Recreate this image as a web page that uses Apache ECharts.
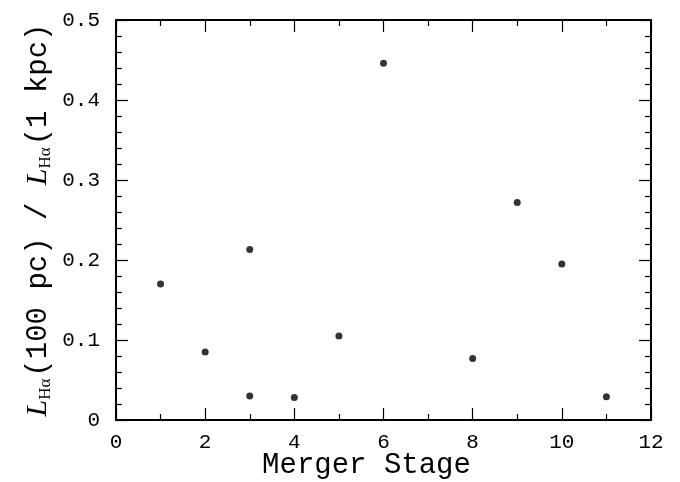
<!DOCTYPE html>
<html>
<head>
<meta charset="utf-8">
<script src="https://cdn.jsdelivr.net/npm/echarts@6/dist/echarts.min.js"></script>
<style>html,body{margin:0;padding:0;background:#fff}#c{width:680px;height:482px}</style>
</head>
<body>
<div id="c"></div>
<script>
var mergerStage = [1, 2, 3, 3, 4, 5, 6, 8, 9, 10, 11];
var haRatio = [0.170, 0.085, 0.213, 0.030, 0.028, 0.105, 0.446, 0.077, 0.272, 0.195, 0.029];
var xTicks = [0, 2, 4, 6, 8, 10, 12];
var yTicks = [0, 0.1, 0.2, 0.3, 0.4, 0.5];

var points = mergerStage.map(function (x, i) { return [x, haRatio[i]]; });
var mono = 'Liberation Mono';
var serif = 'Liberation Serif';
var axisCommon = {
  axisLine: { show: true, onZero: false, lineStyle: { color: '#000', width: 2 } },
  axisTick: { show: true, inside: true, length: 12, lineStyle: { color: '#000', width: 1.2 } },
  splitLine: { show: false }
};
function merge(a, b) { var o = {}; for (var k in a) o[k] = a[k]; for (var k2 in b) o[k2] = b[k2]; return o; }
var xMinor = { show: true, splitNumber: 2, length: 6, lineStyle: { color: '#000', width: 1.2 } };
var yMinor = { show: true, splitNumber: 5, length: 6, lineStyle: { color: '#000', width: 1.2 } };

var chart = echarts.init(document.getElementById('c'));
chart.setOption({
  animation: false,
  backgroundColor: '#fff',
  grid: { left: 116, right: 29, top: 20, bottom: 62, containLabel: false, outerBoundsMode: 'none' },
  xAxis: [
    merge(axisCommon, {
      type: 'value', min: xTicks[0], max: xTicks[xTicks.length - 1], interval: 2,
      minorTick: xMinor,
      name: 'Merger Stage', nameLocation: 'middle', nameGap: 31, nameMoveOverlap: false,
      nameTextStyle: { fontFamily: mono, fontSize: 29, color: '#000', padding: [0, 34, 0, 0] },
      axisLabel: { fontFamily: mono, fontSize: 21, color: '#000', margin: 12 }
    }),
    merge(axisCommon, {
      type: 'value', position: 'top', min: 0, max: 12, interval: 2,
      minorTick: xMinor, axisLabel: { show: false }
    })
  ],
  yAxis: [
    merge(axisCommon, {
      type: 'value', min: yTicks[0], max: yTicks[yTicks.length - 1], interval: 0.1,
      minorTick: yMinor,
      name: '{i|L}{s|Hα}(100 pc) / {i|L}{s|Hα}(1 kpc)', nameLocation: 'middle', nameGap: 62, nameMoveOverlap: false,
      nameTextStyle: {
        fontFamily: mono, fontSize: 29, color: '#000',
        rich: {
          i: { fontFamily: serif, fontSize: 30, fontStyle: 'italic', color: '#000' },
          s: { fontFamily: serif, fontSize: 17, color: '#000', verticalAlign: 'bottom', padding: [14, 2, 0, 0] }
        }
      },
      axisLabel: { fontFamily: mono, fontSize: 21, color: '#000', margin: 16,
        formatter: function (v) { return v === 0 ? '0' : v.toFixed(1); } }
    }),
    merge(axisCommon, {
      type: 'value', position: 'right', min: 0, max: 0.5, interval: 0.1,
      minorTick: yMinor, axisLabel: { show: false }
    })
  ],
  series: [{
    type: 'scatter', data: points, symbol: 'circle', symbolSize: 7,
    itemStyle: { color: '#000' }
  }]
});
</script>
</body>
</html>
